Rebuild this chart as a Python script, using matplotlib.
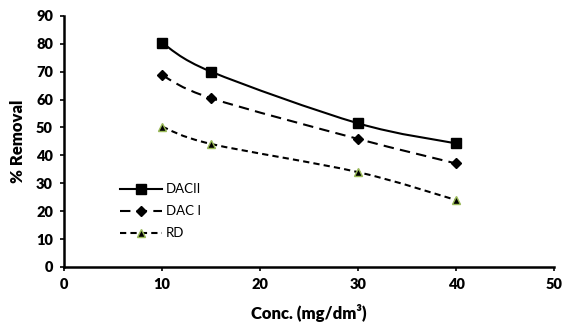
import numpy as np
import matplotlib.pyplot as plt
from matplotlib.path import Path
from matplotlib.patches import PathPatch
from matplotlib.lines import Line2D

conc = [10, 15, 30, 40]
dacii = [80.3, 70.0, 51.5, 44.3]
daci = [68.7, 60.5, 45.9, 37.1]
rd = [50.3, 44.1, 34.0, 24.0]

plt.rcParams['font.family'] = ['Lato', 'DejaVu Sans']


def smooth_path(xs, ys):
    # Bezier smoothing between points (Catmull-Rom style, like spreadsheet "smoothed lines")
    pts = np.column_stack([xs, ys]).astype(float)
    verts = [pts[0]]
    codes = [Path.MOVETO]
    n = len(pts)
    for i in range(n - 1):
        p0 = pts[i - 1] if i > 0 else pts[i]
        p1, p2 = pts[i], pts[i + 1]
        p3 = pts[i + 2] if i + 2 < n else pts[i + 1]
        c1 = p1 + (p2 - p0) / 6.0
        c2 = p2 - (p3 - p1) / 6.0
        verts += [c1, c2, p2]
        codes += [Path.CURVE4] * 3
    return Path(verts, codes)


fig = plt.figure(figsize=(5.67, 3.27), dpi=100)
ax = fig.add_axes([0.113, 0.1835, 0.864, 0.768])

series = [
    (dacii, "DACII", "-", "s", 7, "black", "black"),
    (daci, "DAC I", (0, (5, 3)), "D", 5, "black", "black"),
    (rd, "RD", (0, (3, 2)), "^", 6, "black", "#9bbb59"),
]

handles = []
for ys, name, ls, mk, ms, fc, ec in series:
    ax.add_patch(PathPatch(smooth_path(conc, ys), fill=False, lw=1.5,
                           ls=ls, ec="black", capstyle="butt"))
    ax.plot(conc, ys, ls="none", marker=mk, ms=ms, mfc=fc, mec=ec,
            mew=1.0, zorder=3)
    handles.append(Line2D([], [], color="black", lw=1.5, ls=ls, marker=mk,
                          ms=ms, mfc=fc, mec=ec, label=name))

ax.set_xlim(0, 50)
ax.set_ylim(0, 90)
ax.set_xticks(range(0, 51, 10))
ax.set_yticks(range(0, 91, 10))
for lbl in ax.get_xticklabels() + ax.get_yticklabels():
    lbl.set_fontweight("heavy")
    lbl.set_fontsize(10.5)
ax.tick_params(direction="out", length=3, width=1.2, color="black", pad=5)
ax.spines["top"].set_visible(False)
ax.spines["right"].set_visible(False)
ax.spines["left"].set_linewidth(1.8)
ax.spines["bottom"].set_linewidth(1.8)

ax.set_xlabel("Conc. (mg/dm³)", fontsize=12, fontweight="heavy", labelpad=9)
ax.set_ylabel("% Removal", fontsize=12, fontweight="heavy", labelpad=7)

ax.legend(handles=handles, loc="upper left", bbox_to_anchor=(0.09, 0.38),
          frameon=False, fontsize=9.5, handlelength=3.2, handletextpad=0.3,
          labelspacing=0.75)

fig.savefig("out.png", dpi=100)
